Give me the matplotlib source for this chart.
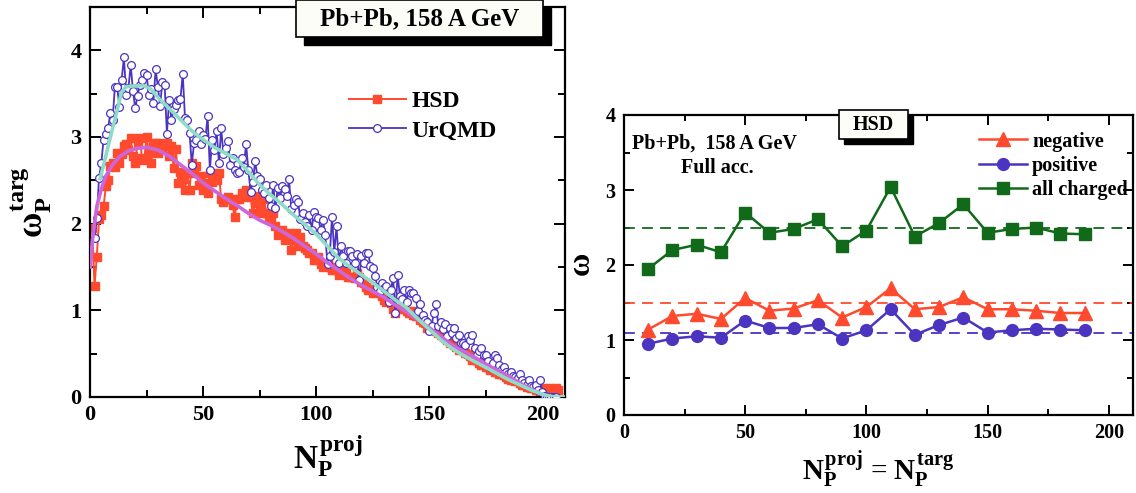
import numpy as np
import matplotlib
matplotlib.use("Agg")
import matplotlib.pyplot as plt
from matplotlib.patches import Rectangle
from matplotlib.ticker import MultipleLocator

plt.rcParams['font.family'] = ['Liberation Serif', 'DejaVu Serif']
plt.rcParams['font.weight'] = 'bold'
plt.rcParams['mathtext.fontset'] = 'custom'
plt.rcParams['mathtext.rm'] = 'Liberation Serif:bold'
plt.rcParams['mathtext.it'] = 'Liberation Serif:bold'
plt.rcParams['mathtext.bf'] = 'Liberation Serif:bold'

# ---- left panel: omega_P^targ vs N_P^proj ----
urqmd_start = 2
urqmd_w = [
    1.83, 2.07, 2.53, 2.70, 2.97, 3.03, 3.10, 3.28, 3.20, 3.58,
    3.58, 3.35, 3.66, 3.92, 3.49, 3.57, 3.83, 3.53, 3.33, 3.47,
    3.60, 3.66, 3.74, 3.72, 3.49, 3.55, 3.39, 3.78, 3.58, 3.36,
    3.64, 3.60, 3.04, 3.43, 3.20, 3.32, 3.37, 3.43, 3.44, 3.73,
    3.22, 3.20, 3.05, 2.68, 2.93, 2.97, 3.07, 2.92, 3.02, 2.98,
    3.24, 2.62, 2.97, 2.85, 3.07, 2.70, 3.10, 2.80, 2.87, 2.95,
    2.68, 2.76, 2.62, 2.58, 2.60, 2.76, 2.65, 2.92, 2.62, 2.37,
    2.48, 2.72, 2.55, 2.52, 2.39, 2.35, 2.45, 2.30, 2.20, 2.45,
    2.18, 2.41, 2.30, 2.43, 2.40, 2.32, 2.51, 2.17, 2.22, 2.28,
    2.25, 2.05, 2.12, 2.02, 1.97, 2.10, 1.93, 2.14, 2.08, 2.06,
    1.93, 2.04, 1.87, 1.53, 1.63, 2.08, 1.67, 1.97, 1.55, 1.74,
    1.63, 1.55, 1.68, 1.68, 1.63, 1.55, 1.65, 1.35, 1.63, 1.55,
    1.66, 1.66, 1.51, 1.49, 1.40, 1.27, 1.22, 1.31, 1.26, 1.28,
    1.10, 1.24, 1.37, 0.97, 1.41, 1.17, 1.13, 1.24, 1.10, 1.24,
    1.20, 1.20, 1.14, 0.99, 1.07, 0.95, 0.89, 0.87, 0.76, 0.82,
    0.97, 1.07, 0.82, 0.87, 0.78, 0.84, 0.70, 0.80, 0.74, 0.80,
    0.68, 0.72, 0.62, 0.62, 0.60, 0.70, 0.66, 0.72, 0.56, 0.49,
    0.53, 0.56, 0.49, 0.49, 0.41, 0.35, 0.39, 0.49, 0.45, 0.37,
    0.32, 0.35, 0.29, 0.27, 0.29, 0.24, 0.23, 0.22, 0.26, 0.20,
    0.16, 0.14, 0.20, 0.13, 0.12, 0.14, 0.08, 0.20, 0.06, 0.01,
    0.00, 0.00, 0.00, 0.00, 0.00,
]

hsd_start = 1
hsd_w = [
    1.95, 1.28, 1.62, 2.05, 2.10, 2.20, 2.43, 2.50, 2.66, 2.70,
    2.65, 2.82, 2.70, 2.80, 2.90, 2.92, 2.85, 2.99, 2.78, 2.70,
    2.93, 2.99, 2.76, 2.74, 3.00, 2.82, 2.70, 2.93, 2.93, 2.82,
    2.93, 2.85, 2.92, 2.93, 2.78, 2.90, 2.64, 2.86, 2.47, 2.60,
    2.52, 2.39, 2.58, 2.39, 2.70, 2.58, 2.66, 2.45, 2.55, 2.39,
    2.47, 2.35, 2.58, 2.48, 2.53, 2.50, 2.58, 2.28, 2.25, 2.28,
    2.31, 2.28, 2.21, 2.08, 2.28, 2.28, 2.35, 2.31, 2.39, 2.35,
    2.31, 2.12, 2.24, 2.32, 2.20, 2.12, 2.28, 2.12, 2.05, 2.08,
    2.12, 1.97, 1.87, 1.89, 1.93, 1.81, 1.85, 1.89, 1.70, 1.81,
    1.89, 1.74, 1.85, 1.74, 1.72, 1.70, 1.66, 1.66, 1.58, 1.58,
    1.62, 1.54, 1.50, 1.54, 1.54, 1.50, 1.47, 1.47, 1.50, 1.41,
    1.47, 1.43, 1.45, 1.39, 1.39, 1.39, 1.37, 1.43, 1.39, 1.33,
    1.31, 1.27, 1.24, 1.25, 1.20, 1.22, 1.24, 1.20, 1.16, 1.12,
    1.10, 1.12, 1.08, 1.01, 0.97, 1.01, 1.03, 1.04, 1.03, 0.99,
    0.97, 0.99, 0.95, 0.93, 0.93, 0.89, 0.87, 0.85, 0.80, 0.82,
    0.78, 0.80, 0.76, 0.74, 0.72, 0.70, 0.68, 0.66, 0.62, 0.64,
    0.60, 0.58, 0.54, 0.56, 0.54, 0.51, 0.50, 0.47, 0.43, 0.43,
    0.43, 0.39, 0.37, 0.39, 0.35, 0.35, 0.31, 0.33, 0.29, 0.29,
    0.27, 0.27, 0.25, 0.23, 0.21, 0.20, 0.20, 0.18, 0.18, 0.16,
    0.14, 0.14, 0.12, 0.12, 0.10, 0.10, 0.08, 0.08, 0.06, 0.10,
    0.08, 0.08, 0.10, 0.09, 0.08, 0.10, 0.08,
]

# smooth curves
urqmd_fit_n = [4.5, 10, 14, 16, 20, 24, 27, 31, 35, 40, 45, 50, 55, 60, 65, 70,
               75, 80, 85, 90, 95, 100, 105, 110, 115, 120, 125, 130, 135, 140,
               145, 150, 155, 160, 165, 170, 175, 180, 185, 190, 195, 200, 205, 210]
urqmd_fit_w = [2.52, 3.10, 3.52, 3.58, 3.59, 3.59, 3.55, 3.43, 3.33, 3.20, 3.07,
               2.97, 2.88, 2.81, 2.74, 2.60, 2.45, 2.33, 2.22, 2.10, 1.99, 1.88,
               1.74, 1.60, 1.50, 1.41, 1.32, 1.22, 1.12, 1.03, 0.90, 0.78, 0.66,
               0.56, 0.48, 0.41, 0.34, 0.27, 0.20, 0.14, 0.08, 0.03, 0.00, 0.00]
hsd_fit_n = [0.2, 1, 2, 3, 5, 7, 10, 13, 17, 21, 25, 30, 35, 40, 45, 50, 55, 60,
             65, 70, 75, 80, 85, 90, 95, 100, 105, 110, 115, 120, 125, 130, 135,
             140, 145, 150, 155, 160, 165, 170, 175, 180, 185, 190, 195, 200, 203]
hsd_fit_w = [1.50, 1.80, 2.00, 2.20, 2.40, 2.55, 2.68, 2.77, 2.84, 2.87, 2.88,
             2.85, 2.78, 2.68, 2.58, 2.47, 2.38, 2.29, 2.21, 2.12, 2.04, 1.98,
             1.91, 1.83, 1.74, 1.65, 1.55, 1.46, 1.37, 1.29, 1.22, 1.15, 1.06,
             0.98, 0.89, 0.80, 0.70, 0.60, 0.53, 0.46, 0.38, 0.31, 0.24, 0.16,
             0.09, 0.03, 0.00]

# ---- right panel: omega vs N_P ----
np_right = [10, 20, 30, 40, 50, 60, 70, 80, 90, 100, 110, 120, 130, 140, 150,
            160, 170, 180, 190]
w_negative = [1.14, 1.32, 1.35, 1.28, 1.56, 1.39, 1.42, 1.53, 1.30, 1.44, 1.69,
              1.41, 1.44, 1.57, 1.41, 1.41, 1.39, 1.36, 1.36]
w_positive = [0.95, 1.02, 1.05, 1.03, 1.26, 1.16, 1.16, 1.21, 1.02, 1.13, 1.41,
              1.07, 1.20, 1.30, 1.10, 1.13, 1.15, 1.14, 1.13]
w_all = [1.95, 2.20, 2.27, 2.17, 2.70, 2.43, 2.48, 2.61, 2.25, 2.46, 3.04, 2.38,
         2.56, 2.81, 2.43, 2.48, 2.50, 2.42, 2.41]
ref_negative = 1.5
ref_positive = 1.1
ref_all = 2.5

RED = '#ff4a2e'
BLUE = '#4a34c0'
GREEN = '#106a1a'
CYAN = '#8edcc8'
MAGENTA = '#cc66dd'

W, H = 1136, 493
fig = plt.figure(figsize=(W / 100, H / 100), dpi=100)


def px_axes(l, t, r, b):
    return fig.add_axes([l / W, 1 - b / H, (r - l) / W, (b - t) / H])


def style_axes(ax, size, major=7, minor=4):
    for s in ax.spines.values():
        s.set_linewidth(1.6)
    ax.tick_params(which='both', direction='in', top=True, right=True,
                   width=1.4, labelsize=size, pad=6)
    ax.tick_params(which='major', length=major)
    ax.tick_params(which='minor', length=minor)
    ax.xaxis.set_major_locator(MultipleLocator(50))
    ax.xaxis.set_minor_locator(MultipleLocator(25))
    ax.yaxis.set_major_locator(MultipleLocator(1))
    ax.yaxis.set_minor_locator(MultipleLocator(0.5))
    for lab in ax.get_xticklabels() + ax.get_yticklabels():
        lab.set_fontweight('bold')


def shadow_box(l, t, r, b, dx, dy, text, size):
    fig.add_artist(Rectangle(((l + dx) / W, 1 - (b + dy) / H), (r - l) / W,
                             (b - t) / H, transform=fig.transFigure,
                             facecolor='black', edgecolor='black', zorder=10))
    fig.add_artist(Rectangle((l / W, 1 - b / H), (r - l) / W, (b - t) / H,
                             transform=fig.transFigure, facecolor='#fdfdf8',
                             edgecolor='black', linewidth=1.2, zorder=11))
    fig.text((l + r) / 2 / W, 1 - (t + b) / 2 / H, text, fontsize=size,
             fontweight='bold', ha='center', va='center', zorder=12)


# left
ax1 = px_axes(90, 7, 565, 397)
n_u = np.arange(urqmd_start, urqmd_start + len(urqmd_w))
n_h = np.arange(hsd_start, hsd_start + len(hsd_w))
ax1.plot(n_h, hsd_w, '-', color=RED, lw=1.4, marker='s', ms=5.4,
         mfc=RED, mec=RED, label='HSD', zorder=2)
ax1.plot(n_u, urqmd_w, '-', color=BLUE, lw=1.3, marker='o', ms=5.6,
         mfc='white', mec=BLUE, mew=0.9, label='UrQMD', zorder=3)
ax1.plot([n_u[-1], 210], [0, 0], color=BLUE, lw=1.3, zorder=3)
ax1.plot(hsd_fit_n, hsd_fit_w, '-', color=MAGENTA, lw=2.6, zorder=4)
ax1.plot(urqmd_fit_n, urqmd_fit_w, '-', color=CYAN, lw=2.6, zorder=4)
ax1.set_xlim(0, 210)
ax1.set_ylim(0, 4.5)
style_axes(ax1, 16, major=8, minor=5)
ax1.set_xlabel(r'$N_P^{proj}$', fontsize=24, labelpad=6)
ax1.set_ylabel(r'$\omega_P^{targ}$', fontsize=25, labelpad=12)
leg1 = ax1.legend(loc='upper left', bbox_to_anchor=(0.545, 0.785),
                  frameon=False, fontsize=17, handlelength=2.4, numpoints=1,
                  handletextpad=0.25, labelspacing=0.33, borderpad=0,
                  borderaxespad=0)
for t in leg1.get_texts():
    t.set_fontweight('bold')
shadow_box(296, 0, 543, 37, 8, 8, 'Pb+Pb, 158 A GeV', 18)

# right
ax2 = px_axes(624, 115, 1133, 415)
ax2.axhline(ref_all, color=GREEN, ls=(0, (6, 4)), lw=1.3)
ax2.axhline(ref_negative, color=RED, ls=(0, (6, 4)), lw=1.3)
ax2.axhline(ref_positive, color=BLUE, ls=(0, (6, 4)), lw=1.3)
ax2.plot(np_right, w_negative, '-', color=RED, lw=1.8, marker='^', ms=9.5,
         label='negative')
ax2.plot(np_right, w_positive, '-', color=BLUE, lw=1.8, marker='o', ms=8.5,
         label='positive')
ax2.plot(np_right, w_all, '-', color=GREEN, lw=1.8, marker='s', ms=8,
         label='all charged')
ax2.set_xlim(0, 210)
ax2.set_ylim(0, 4)
style_axes(ax2, 14.5, major=7, minor=4)
ax2.set_xlabel(r'$N_P^{proj}$ = $N_P^{targ}$', fontsize=21, labelpad=4)
ax2.set_ylabel(r'$\omega$', fontsize=23, labelpad=6)
leg2 = ax2.legend(loc='upper left', bbox_to_anchor=(0.697, 0.945),
                  frameon=False, fontsize=14.5, handlelength=2.4, numpoints=1,
                  handletextpad=0.25, labelspacing=0.22, borderpad=0,
                  borderaxespad=0)
for t in leg2.get_texts():
    t.set_fontweight('bold')
ax2.text(0.016, 0.905, 'Pb+Pb,  158 A GeV', transform=ax2.transAxes,
         fontsize=14.5, fontweight='bold', va='center', ha='left')
ax2.text(0.112, 0.822, 'Full acc.', transform=ax2.transAxes,
         fontsize=14.5, fontweight='bold', va='center', ha='left')
shadow_box(839, 110, 908, 139, 5, 5, 'HSD', 14.5)

fig.savefig('out.png', dpi=100)
